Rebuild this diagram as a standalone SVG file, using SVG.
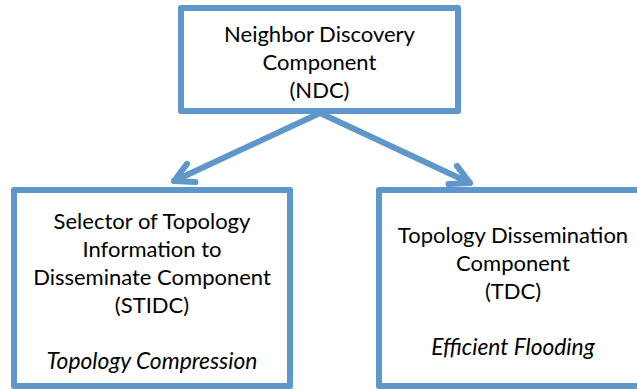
<svg xmlns="http://www.w3.org/2000/svg" width="637" height="389" viewBox="0 0 637 389">
  <style>
    .box { fill: #ffffff; stroke: #6097CB; stroke-width: 6; stroke-linejoin: round; }
    .link { fill: none; stroke: #6097CB; stroke-width: 6; stroke-linecap: round; }
    .label { font-family: Lato, "Noto Sans", "Liberation Sans", sans-serif; font-size: 22px; fill: #000000; text-anchor: middle; }
    .note { font-style: italic; font-size: 22.8px; }
  </style>
  <defs>
    <marker id="openArrow" markerUnits="userSpaceOnUse" orient="auto" markerWidth="40" markerHeight="40" refX="0" refY="0" viewBox="-25 -20 40 40" overflow="visible">
      <path d="M -19 -10 L 0 0 L -19 10" fill="none" stroke="#6097CB" stroke-width="6" stroke-linecap="round" stroke-linejoin="round"/>
    </marker>
  </defs>

  <rect width="637" height="389" fill="#ffffff"/>

  <g id="connectors">
    <path class="link" d="M 320 113 L 174 181" marker-end="url(#openArrow)"/>
    <path class="link" d="M 320 113 L 470 183" marker-end="url(#openArrow)"/>
  </g>

  <g id="ndc">
    <rect class="box" x="181" y="8" width="277" height="103"/>
    <text class="label" x="319.5" y="42">Neighbor Discovery</text>
    <text class="label" x="319.5" y="70">Component</text>
    <text class="label" x="319.5" y="98">(NDC)</text>
  </g>

  <g id="stidc">
    <rect class="box" x="14" y="190" width="276" height="196"/>
    <text class="label" x="152" y="229">Selector of Topology</text>
    <text class="label" x="152" y="257">Information to</text>
    <text class="label" x="152" y="285">Disseminate Component</text>
    <text class="label" x="152" y="313">(STIDC)</text>
    <text class="label note" x="152" y="369">Topology Compression</text>
  </g>

  <g id="tdc">
    <rect class="box" x="379" y="190" width="268" height="196"/>
    <text class="label" x="513" y="243">Topology Dissemination</text>
    <text class="label" x="513" y="271">Component</text>
    <text class="label" x="513" y="299">(TDC)</text>
    <text class="label note" x="513" y="355">Efficient Flooding</text>
  </g>
</svg>
